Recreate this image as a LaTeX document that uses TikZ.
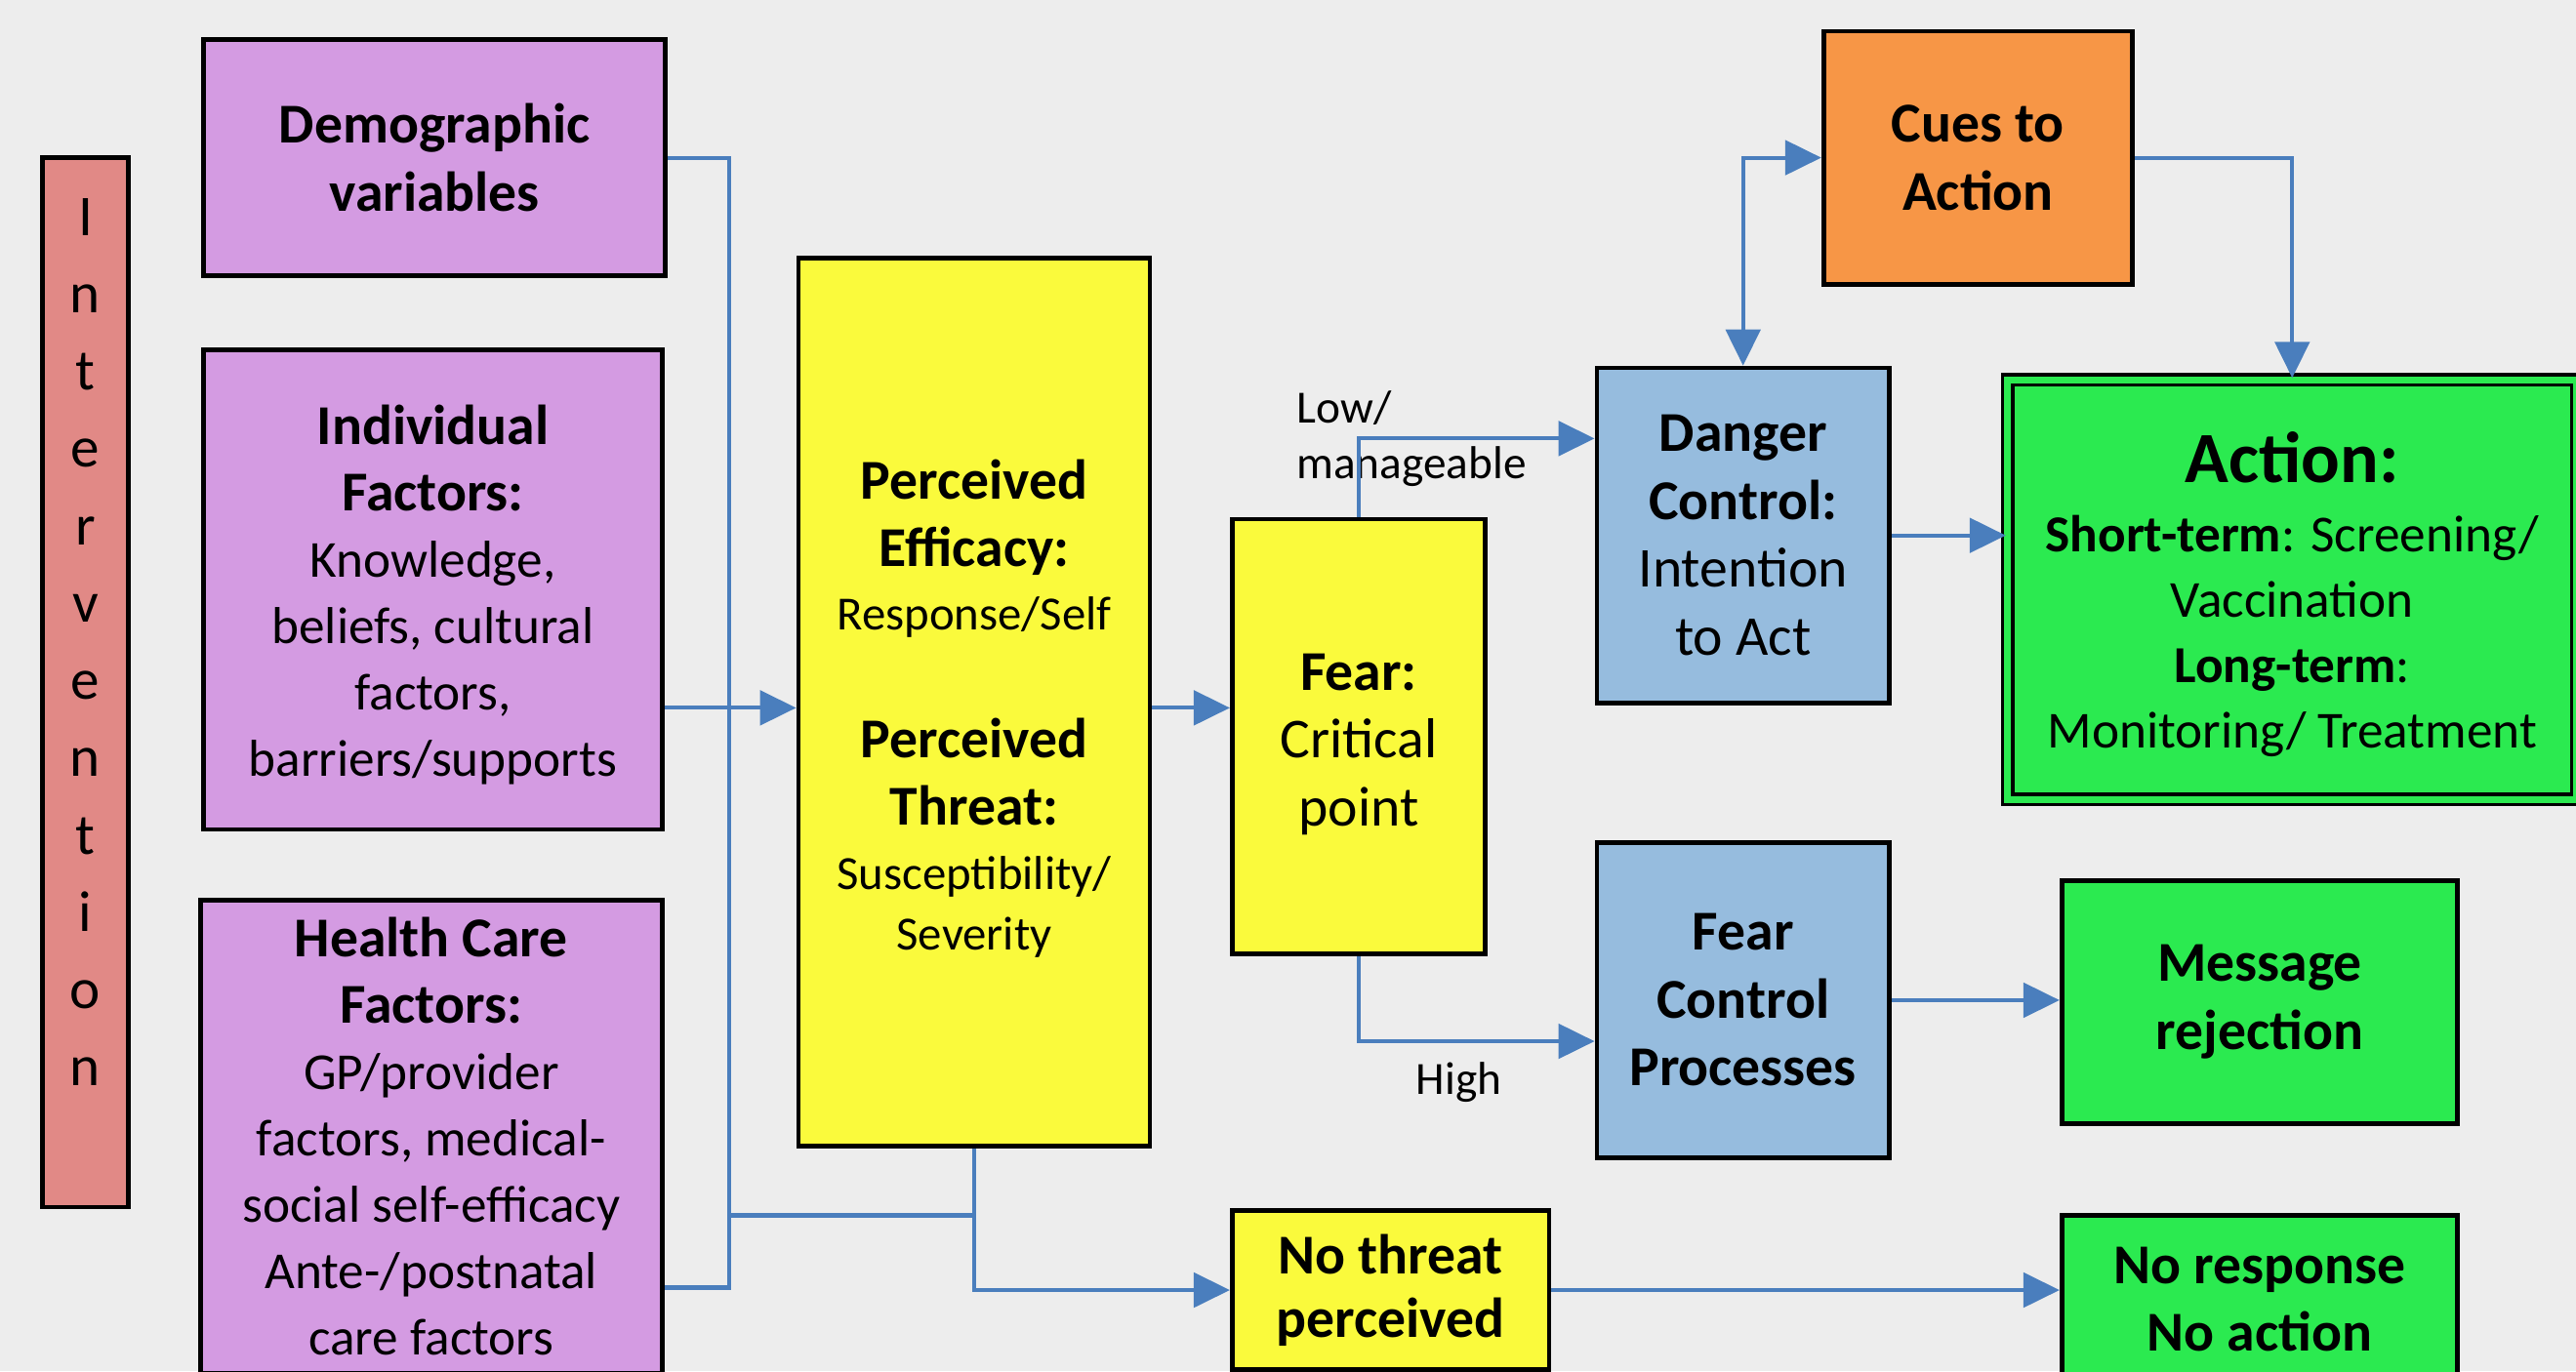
\documentclass[tikz,border=0pt]{standalone}
\usepackage{fontspec}
\setmainfont{Carlito}
\usetikzlibrary{arrows.meta}

\definecolor{bgGray}{RGB}{237,237,237}
\definecolor{purp}{RGB}{212,155,226}
\definecolor{yell}{RGB}{250,250,60}
\definecolor{skyBlue}{RGB}{150,188,222}
\definecolor{leaf}{RGB}{43,234,80}
\definecolor{orng}{RGB}{247,150,70}
\definecolor{salmon}{RGB}{225,137,134}
\definecolor{lineBlue}{RGB}{74,126,189}

\def\smalltxt{\fontsize{16.5}{20}\selectfont}
\def\ttl#1{{\fontsize{19.5}{23}\selectfont\bfseries #1}}

\tikzset{
  box/.style={draw=black, line width=1.6pt, align=center, inner sep=0pt,
    font=\fontsize{19.5}{23.5}\selectfont},
  bodybox/.style={box, fill=purp, font=\fontsize{18}{23}\selectfont},
  link/.style={draw=lineBlue, line width=1.4pt},
  arrow/.style={link, -{Triangle[length=0.44cm, width=0.42cm]}},
  lbl/.style={font=\fontsize{16}{19.3}\selectfont, align=left, inner sep=0pt}
}

\begin{document}
\begin{tikzpicture}[x=0.02cm, y=-0.02cm]
		%%%%% BACKGROUND %%%%%
		\clip (0,0) rectangle (1568,835);
		\fill[bgGray] (0,0) rectangle (1568,835);
		
		%%%%% LEFT COLUMN %%%%%
		\node[box, fill=salmon, minimum width=1.04cm, minimum height=12.78cm] (interv) at (52,415.5) {};
		\node[font=\fontsize{20}{26.8}\selectfont, align=center] (intervTxt) at (52,391) {I\\n\\t\\e\\r\\v\\e\\n\\t\\i\\o\\n};
		
		\node[box, fill=purp, minimum width=5.62cm, minimum height=2.88cm, font=\fontsize{19.5}{23.5}\selectfont\bfseries] (demo) at (264.5,96) {Demographic\\variables};
		\node[bodybox, minimum width=5.58cm, minimum height=5.84cm] (indiv) at (263.5,359) {\rule{0pt}{17pt}\ttl{Individual}\\\ttl{Factors:}\\Knowledge,\\beliefs, cultural\\factors,\\barriers/supports};
		\node[bodybox, minimum width=5.62cm, minimum height=5.76cm] (hcare) at (262.5,692) {\ttl{Health Care}\\\ttl{Factors:}\\GP/provider\\factors, medical-\\social self-efficacy\\Ante-/postnatal\\care factors};
		
		%%%%% MIDDLE %%%%%
		\node[box, fill=yell, minimum width=4.28cm, minimum height=10.82cm] (perc) at (593,427.5) {\rule{0pt}{18pt}\textbf{Perceived}\\\textbf{Efficacy:}\\[-1.5pt]{\smalltxt Response/Self}\\[20.7pt]\textbf{Perceived}\\\textbf{Threat:}\\[-1.5pt]{\smalltxt Susceptibility/}\\[-2.5pt]{\smalltxt Severity}};
		\node[box, fill=yell, minimum width=3.08cm, minimum height=5.30cm] (fear) at (827,448.5) {\rule{0pt}{18pt}\textbf{Fear:}\\Critical\\point};
		\node[box, fill=yell, minimum width=3.86cm, minimum height=1.94cm, font=\fontsize{19.5}{22}\selectfont\bfseries] (nothreat) at (846.5,785.5) {No threat\\perceived};
		
		%%%%% RIGHT %%%%%
		\node[box, fill=orng, minimum width=3.76cm, minimum height=3.08cm, font=\fontsize{19.5}{23.5}\selectfont\bfseries] (cues) at (1204,96) {Cues to\\Action};
		\node[box, fill=skyBlue, minimum width=3.56cm, minimum height=4.08cm] (danger) at (1061,326) {\textbf{Danger}\\\textbf{Control:}\\Intention\\to Act};
		\node[box, fill=leaf, line width=1.3pt, double=leaf, double distance=0.08cm, minimum width=6.93cm, minimum height=5.11cm, font=\fontsize{18}{22.7}\selectfont] (action) at (1395.25,359) {\rule{0pt}{21pt}{\fontsize{25}{30}\selectfont\bfseries Action:}\\[1.1pt]\textbf{Short-term}: Screening/\\Vaccination\\\textbf{Long-term}:\\Monitoring/ Treatment};
		\node[box, fill=skyBlue, minimum width=3.56cm, minimum height=3.84cm, font=\fontsize{19.5}{23.5}\selectfont\bfseries] (fcp) at (1061,609) {Fear\\Control\\Processes};
		\node[box, fill=leaf, minimum width=4.82cm, minimum height=2.96cm, font=\fontsize{19.5}{24}\selectfont\bfseries] (msg) at (1375.5,610) {Message\\rejection};
		\node[box, fill=leaf, minimum width=4.82cm, minimum height=2.04cm, font=\fontsize{19.5}{23.5}\selectfont\bfseries] (noresp) at (1375.5,791) {No response\\No action};
		
		%%%%% LABELS %%%%%
		\node[lbl, anchor=west] (lowLbl) at (789,267) {Low/\\manageable};
		\node[lbl] (highLbl) at (888,659) {High};
		
		%%%%% CONNECTORS %%%%%
		\coordinate (tapIndiv) at (444,431);
		\coordinate (tapThreat) at (444,740);
		\coordinate (tapHc) at (444,784);
		\coordinate (lowTurn) at (827,267);
		\coordinate (highTurn) at (827,634);
		
		\draw[link] (demo.east) -| (tapHc) -- (hcare.east |- tapHc);
		\draw[arrow] (indiv.east |- tapIndiv) -- (perc.west |- tapIndiv);
		\draw[link] (tapThreat) -- (perc.south |- tapThreat);
		\draw[arrow] (perc.south) |- (nothreat.west);
		\draw[arrow] (perc.east |- tapIndiv) -- (fear.west |- tapIndiv);
		
		\draw[arrow] (fear.north) |- (danger.west |- lowTurn);
		\draw[arrow] (fear.south) |- (fcp.west |- highTurn);
		\draw[link, {Triangle[length=0.44cm, width=0.42cm]}-{Triangle[length=0.44cm, width=0.42cm]}] (danger.north) |- (cues.west);
		\draw[arrow] (cues.east) -| (action.north);
		\draw[arrow] (danger.east) -- (action.west |- danger.east);
		\draw[arrow] (fcp.east) -- (msg.west |- fcp.east);
		\draw[arrow] (nothreat.east) -- (noresp.west |- nothreat.east);
		
		%%%%% END %%%%%
\end{tikzpicture}
\end{document}
